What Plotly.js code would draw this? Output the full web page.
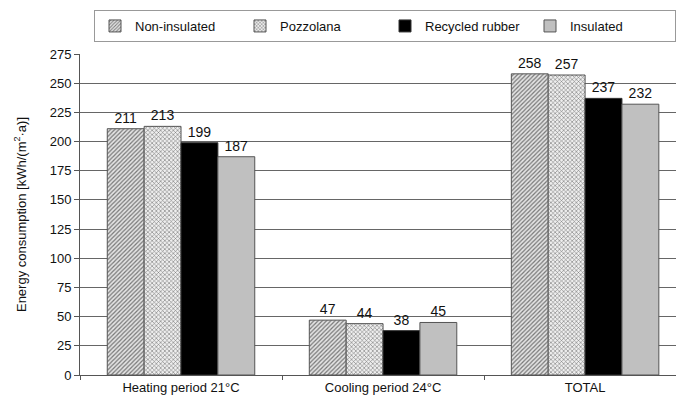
<!DOCTYPE html>
<html><head><meta charset="utf-8">
<script src="https://cdn.plot.ly/plotly-3.0.1.min.js"></script>
<style>body{margin:0;padding:0;background:#fff}#chart{width:676px;height:400px}</style>
</head><body><div id="chart"></div>
<script>
const categories = ["Heating period 21°C", "Cooling period 24°C", "TOTAL"];
const seriesNames = ["Non-insulated", "Pozzolana", "Recycled rubber", "Insulated"];
const nonInsulated = [211, 47, 258];
const pozzolana = [213, 44, 257];
const recycledRubber = [199, 38, 237];
const insulated = [187, 45, 232];
const yTicks = [0, 25, 50, 75, 100, 125, 150, 175, 200, 225, 250, 275];

const values = [nonInsulated, pozzolana, recycledRubber, insulated];
const styles = [
  {color: "#d8d8d8", line: {color: "#555", width: 1}, pattern: {shape: "/", fgcolor: "#777", bgcolor: "#e4e4e4", size: 3, solidity: 0.4}},
  {color: "#e8e8e8", line: {color: "#555", width: 1}, pattern: {shape: "x", fgcolor: "#777", bgcolor: "#eeeeee", size: 3, solidity: 0.35}},
  {color: "#000000", line: {color: "#333", width: 1}},
  {color: "#c0c0c0", line: {color: "#555", width: 1}}
];
const traces = seriesNames.map((n, i) => ({
  type: "bar", name: n, x: categories, y: values[i],
  marker: styles[i],
  text: values[i].map(String), textposition: "outside", cliponaxis: false,
  textfont: {family: "Liberation Sans, Arial, sans-serif", size: 14, color: "#111"}
}));

const layout = {
  width: 676, height: 400,
  margin: {l: 80, r: 0, t: 54, b: 25},
  paper_bgcolor: "#fff", plot_bgcolor: "#fff",
  font: {family: "Liberation Sans, Arial, sans-serif", size: 12, color: "#111"},
  barmode: "group", bargap: 0.27, bargroupgap: 0,
  showlegend: true,
  legend: {orientation: "h", xref: "paper", x: 0.065, xanchor: "left",
    yref: "container", y: 0.975, yanchor: "top",
    bordercolor: "#999", borderwidth: 1, bgcolor: "#fff",
    entrywidth: 100, itemwidth: 30, traceorder: "normal",
    font: {size: 13, color: "#111"}},
  xaxis: {type: "category", range: [-0.5, 2.45], tickson: "boundaries",
    ticks: "outside", ticklen: 4, tickcolor: "#555", showgrid: false,
    showline: true, linecolor: "#555", linewidth: 1,
    tickfont: {size: 13, color: "#111"}},
  yaxis: {range: [0, 275], tickvals: yTicks, ticks: "outside", ticklen: 5, tickcolor: "#555",
    showline: true, linecolor: "#555", gridcolor: "#666", gridwidth: 1,
    zeroline: false, tickfont: {size: 13, color: "#111"},
    title: {text: "Energy consumption [kWh/(m<sup>2</sup>·a)]", font: {size: 13, color: "#111"}, standoff: 20}}
};
Plotly.newPlot("chart", traces, layout, {staticPlot: true, displayModeBar: false});
</script></body></html>
